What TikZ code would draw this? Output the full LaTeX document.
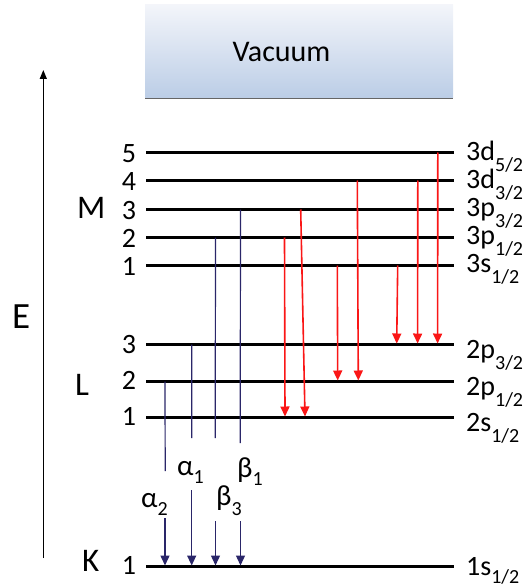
\documentclass[tikz,border=0pt]{standalone}
\usepackage{fontspec}
\setmainfont{Carlito}
\usetikzlibrary{arrows.meta,calc}

\definecolor{vactop}{RGB}{243,245,250}
\definecolor{vacbot}{RGB}{187,205,230}
\definecolor{kline}{RGB}{42,38,105}
\definecolor{emred}{RGB}{250,22,22}

\newcommand{\txtsize}[1]{\fontsize{#1}{#1}\selectfont}
\newcommand{\lvsub}[2][11pt]{\raisebox{-#1}{\txtsize{20}#2}}

\begin{document}
\begin{tikzpicture}[x=1pt,y=-1pt,line join=round,
  shellline/.style={line width=2.8pt},
  lvnum/.style={anchor=base,inner sep=0pt,font=\txtsize{28}},
  lvname/.style={anchor=base west,inner sep=0pt,font=\txtsize{28}},
  shellname/.style={anchor=base west,inner sep=0pt,font=\txtsize{33}},
  greek/.style={anchor=base west,inner sep=0pt,font=\txtsize{29}},
  kpart/.style={draw=kline,line width=1.2pt},
  karrow/.style={draw=kline,line width=1.4pt,-{Triangle[length=10pt,width=9pt]}},
  emis/.style={draw=emred,line width=1.6pt,-{Triangle[length=10pt,width=9pt]}}]
	\useasboundingbox (0,0) rectangle (526,588);

	% Vacuum box
	\shade[top color=vactop,bottom color=vacbot] (145,5) rectangle (453,98);
	\draw[gray!80!black,line width=0.8pt] (145,98) -- (453,98);
	\node[anchor=base,inner sep=0pt,font=\txtsize{30}] (vac) at (281.5,61.7) {Vacuum};

	% Energy axis
	\coordinate (Ebot) at (43.3,558);
	\coordinate (Etop) at (43.3,70);
	\draw[line width=1.3pt,-{Triangle[length=9pt,width=7pt]}] (Ebot) -- (Etop);
	\node[anchor=base west,inner sep=0pt,font=\txtsize{37}] (E) at (12,328) {E};

	% Levels
	\foreach \name/\y in {M5/152.5,M4/180.5,M3/209.5,M2/237.5,M1/265.5,L3/344.5,L2/381.5,L1/417.5,K1/566.5}
	{
		\coordinate (\name) at (146,\y);
		\draw[shellline] (\name) -- ++(308,0);
	}

	% Shells
	\node[shellname] (Mname) at (77,218) {M};
	\node[shellname] (Lname) at (75,395) {L};
	\node[shellname] (Kname) at (82,571) {K};

	% Level numbers
	\node[lvnum] (nM5) at (129,162.7) {5};
	\node[lvnum] (nM4) at (129,190.7) {4};
	\node[lvnum] (nM3) at (129,219) {3};
	\node[lvnum] (nM2) at (129,247.3) {2};
	\node[lvnum] (nM1) at (129,275) {1};
	\node[lvnum] (nL3) at (129,353) {3};
	\node[lvnum] (nL2) at (129,389) {2};
	\node[lvnum] (nL1) at (129,425) {1};
	\node[lvnum] (nK1) at (129,574.5) {1};

	% Level names
	\node[lvname] (tM5) at (466,160.2) {3d\lvsub{5/2}};
	\node[lvname] (tM4) at (466,188.2) {3d\lvsub{3/2}};
	\node[lvname] (tM3) at (466,216.5) {3p\lvsub{3/2}};
	\node[lvname] (tM2) at (466,244.8) {3p\lvsub{1/2}};
	\node[lvname] (tM1) at (466,272.5) {3s\lvsub{1/2}};
	\node[lvname] (tL3) at (466,358.3) {2p\lvsub{3/2}};
	\node[lvname] (tL2) at (466,395) {2p\lvsub{1/2}};
	\node[lvname] (tL1) at (466,431.3) {2s\lvsub{1/2}};
	\node[lvname] (tK1) at (466,575) {1s\lvsub[8pt]{1/2}};

	% M -> L transitions
	\draw[emis] ([xshift=138.5pt]M2) -- ([xshift=139pt,yshift=1pt]L1);
	\draw[emis] ([xshift=154.7pt]M3) -- ([xshift=159pt,yshift=1pt]L1);
	\draw[emis] ([xshift=191.3pt]M1) -- ([xshift=191.7pt,yshift=1pt]L2);
	\draw[emis] ([xshift=211.3pt]M4) -- ([xshift=212.3pt,yshift=1pt]L2);
	\draw[emis] ([xshift=251.7pt]M1) -- ([xshift=250.7pt,yshift=1pt]L3);
	\draw[emis] ([xshift=271.8pt]M4) -- ([xshift=271.6pt,yshift=1pt]L3);
	\draw[emis] ([xshift=291.8pt]M5) -- ([xshift=291.6pt,yshift=1pt]L3);

	% K lines
	\coordinate (a2up) at (165.2,471);
	\coordinate (a2dn) at (165,518);
	\coordinate (a1up) at (191.8,438);
	\coordinate (a1dn) at (191.7,490);
	\coordinate (b3up) at (215.2,438);
	\coordinate (b3dn) at (215.5,521);
	\coordinate (b1up) at (240.2,443);
	\coordinate (b1dn) at (240.5,521);
	\draw[kpart] ([xshift=19pt]L2) -- (a2up);
	\draw[karrow] (a2dn) -- ([xshift=19pt,yshift=1pt]K1);
	\draw[kpart] ([xshift=45.7pt]L3) -- (a1up);
	\draw[karrow] (a1dn) -- ([xshift=45.7pt,yshift=1pt]K1);
	\draw[kpart] ([xshift=69.5pt]M2) -- (b3up);
	\draw[karrow] (b3dn) -- ([xshift=69.5pt,yshift=1pt]K1);
	\draw[kpart] ([xshift=94.5pt]M3) -- (b1up);
	\draw[karrow] (b1dn) -- ([xshift=94.5pt,yshift=1pt]K1);

	% Labels
	\node[greek] (a2) at (141,507) {α\lvsub[8pt]{2}};
	\node[greek] (a1) at (177,475) {α\lvsub[8pt]{1}};
	\node[greek] (b3) at (216,505) {β\lvsub[10pt]{3}};
	\node[greek] (b1) at (237,477) {β\lvsub[8pt]{1}};
\end{tikzpicture}
\end{document}
